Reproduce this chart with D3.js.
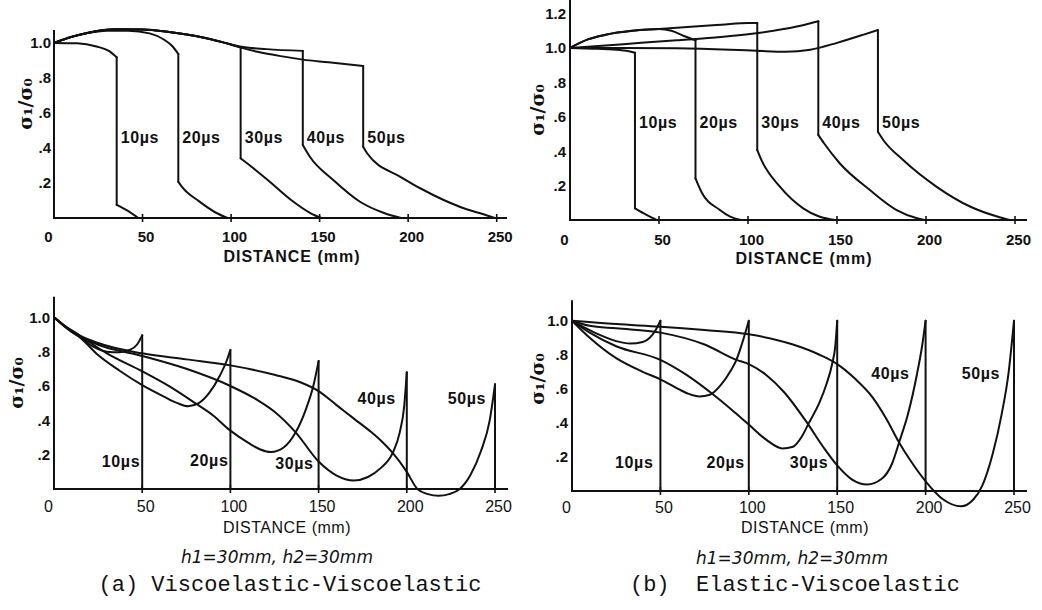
<!DOCTYPE html>
<html><head><meta charset="utf-8">
<script src="https://cdn.jsdelivr.net/npm/d3@7"></script>
<style>
html,body{margin:0;padding:0;background:#fff;}
svg{display:block;}
</style></head>
<body>
<svg id="chart" width="1042" height="610"></svg>
<script>
// ---------- DATA ----------
const timeLabels = ["10µs","20µs","30µs","40µs","50µs"];
const xTickValues = [0,50,100,150,200,250];
const yTicksLower = [0.2,0.4,0.6,0.8,1.0];
const yTicksUpper = [0.2,0.4,0.6,0.8,1.0,1.2];

// (a) Viscoelastic-Viscoelastic, top: wave front part (head) and tail after the jump
const aTopHead = [
  [[0,1],[13,0.998],[24,0.98],[30.7,0.956],[35.4,0.918]],
  [[0,1],[8,1.03],[18,1.055],[30,1.07],[42,1.07],[54,1.055],[62,1.02],[67,0.98],[70.2,0.937]],
  [[0,1],[10,1.035],[20,1.06],[35,1.078],[50,1.077],[65,1.063],[80,1.04],[95,1.005],[105.4,0.975]],
  [[0,1],[10,1.035],[20,1.06],[35,1.078],[50,1.077],[65,1.063],[80,1.04],[95,1.005],[105,0.98],[120,0.965],[140.5,0.955]],
  [[0,1],[10,1.035],[20,1.06],[35,1.078],[50,1.077],[65,1.063],[80,1.04],[95,1.005],[105,0.975],[115,0.95],[128,0.925],[140.5,0.905],[155,0.89],[174.6,0.869]]
];
const aTopTail = [
  [[35.4,0.075],[41,0.045],[47.6,0]],
  [[70.2,0.207],[72.5,0.175],[82,0.095],[91.5,0.03],[98,0]],
  [[105.4,0.341],[109.4,0.31],[120.7,0.217],[133.9,0.103],[145,0.027],[151,0]],
  [[140.5,0.417],[144.5,0.35],[157.7,0.217],[172.8,0.093],[186,0.03],[196,0]],
  [[174.6,0.407],[176.8,0.37],[195.6,0.235],[214.4,0.13],[233,0.05],[243,0.02],[249,0]]
];

// (b) Elastic-Viscoelastic, top
const bTopHead = [
  [[0,1],[15,0.995],[28,0.988],[33.7,0.98],[36.5,0.972]],
  [[0,1],[10,1.05],[20,1.077],[35,1.1],[50,1.11],[57,1.1],[64,1.07],[70.5,1.045]],
  [[0,1],[10,1.05],[20,1.077],[35,1.1],[50,1.11],[70,1.125],[85,1.135],[100,1.145],[105.2,1.145]],
  [[0,1],[20,1.015],[40,1.03],[60,1.045],[80,1.06],[100,1.08],[120,1.11],[132,1.135],[139.5,1.155]],
  [[0,1],[30,1.0],[60,0.998],[90,0.99],[105,0.984],[121,0.978],[135,0.99],[150,1.03],[165,1.078],[173,1.105]]
];
const bTopTail = [
  [[36.5,0.068],[43,0.03],[48.7,0]],
  [[70.5,0.242],[74,0.16],[84,0.06],[90,0.02],[96,0]],
  [[105.2,0.407],[107.5,0.35],[117.8,0.195],[131,0.068],[140,0.02],[149,0]],
  [[139.5,0.494],[142.7,0.446],[151.5,0.33],[168.5,0.174],[183.5,0.058],[195,0.01],[199,0]],
  [[173,0.513],[176,0.465],[187,0.35],[206,0.193],[225,0.077],[240,0.02],[247,0]]
];

// (a) bottom: curves end in a vertical jump down to zero
const aBottom = [
  [[0,1],[6,0.95],[13,0.905],[22,0.83],[30,0.8],[37,0.797],[43,0.81],[47,0.84],[50,0.895]],
  [[0,1],[8,0.93],[15,0.88],[25,0.78],[37,0.69],[50,0.605],[62,0.54],[70,0.5],[76,0.482],[82,0.5],[88,0.56],[94,0.66],[98,0.75],[100,0.81]],
  [[0,1],[8,0.935],[15,0.89],[30,0.79],[50,0.685],[65,0.6],[80,0.5],[90,0.43],[100,0.34],[110,0.27],[117,0.23],[123,0.215],[130,0.24],[137,0.33],[143,0.47],[147,0.6],[150,0.745]],
  [[0,1],[10,0.915],[25,0.84],[50,0.775],[75,0.7],[100,0.6],[115,0.52],[125,0.45],[137,0.33],[150,0.16],[160,0.08],[170,0.05],[178,0.07],[185,0.12],[192,0.21],[196,0.33],[198.5,0.48],[200,0.68]],
  [[0,1],[10,0.92],[25,0.85],[50,0.79],[75,0.755],[100,0.72],[125,0.665],[140,0.62],[150,0.57],[160,0.49],[170,0.41],[180,0.33],[186,0.275],[192,0.21],[200,0.1],[206,0.0],[212,-0.03],[218,-0.04],[224,-0.03],[230,0.0],[236,0.08],[242,0.22],[247,0.4],[250,0.61]]
];

// (b) bottom
const bBottom = [
  [[0,1],[8,0.955],[16,0.915],[25,0.88],[33,0.866],[40,0.875],[44,0.9],[47,0.94],[50,1.0]],
  [[0,1],[10,0.9],[25,0.78],[40,0.7],[50,0.656],[60,0.6],[66,0.57],[72,0.555],[78,0.565],[84,0.62],[90,0.71],[93,0.77],[96,0.86],[100,1.0]],
  [[0,1],[10,0.93],[25,0.85],[50,0.77],[65,0.68],[80,0.565],[90,0.48],[100,0.39],[110,0.3],[119,0.25],[125,0.26],[130,0.32],[134,0.4],[140,0.52],[144,0.63],[147,0.74],[149,0.86],[150,1.0]],
  [[0,1],[10,0.97],[25,0.955],[50,0.93],[75,0.86],[93,0.77],[100,0.745],[110,0.68],[120,0.58],[133,0.4],[142,0.26],[150,0.15],[158,0.07],[167,0.038],[175,0.07],[181,0.16],[185,0.285],[190,0.45],[195,0.68],[198,0.85],[200,1.0]],
  [[0,1],[25,0.98],[50,0.965],[75,0.945],[100,0.92],[125,0.86],[140,0.8],[150,0.745],[160,0.66],[170,0.55],[178,0.42],[185,0.285],[192,0.17],[200,0.057],[210,-0.05],[220,-0.09],[227,-0.05],[232,0.03],[238,0.22],[243,0.45],[247,0.7],[250,1.0]]
];

// ---------- LAYOUT ----------
const svg = d3.select("#chart");
const INK = "#111";

const panels = [
  {kind:"top", xr:[54,496.7], y0:218, y1:43, axisTop:1.075, axisEnd:507, yTicks:yTicksLower,
   heads:aTopHead, tails:aTopTail, labelY:137, tickPad:13.5,
   xTitle:[292,256], yTitle:[25,104], ytRight:51},
  {kind:"top", xr:[570,1015], y0:220, y1:48, axisTop:1.29, axisEnd:1027, yTicks:yTicksUpper,
   heads:bTopHead, tails:bTopTail, labelY:122, tickPad:14.5,
   xTitle:[804,258], yTitle:[537,110], ytRight:566},
  {kind:"bottom", xr:[54,495], y0:489, y1:317.3, axisTop:1.12, axisEnd:508, yTicks:yTicksLower,
   curves:aBottom, labelYs:[461,460,463,398,398], labelDx:[-2,-2,-5,-11,-9],
   tickPad:12, xTitle:[287,527], yTitle:[16,383], ytRight:50},
  {kind:"bottom", xr:[572,1014], y0:491, y1:320.7, axisTop:1.12, axisEnd:1027, yTicks:yTicksLower,
   curves:bBottom, labelYs:[462,462,462,373,373], labelDx:[-7,-4,-9,-16,-14],
   tickPad:11, xTitle:[805,527], yTitle:[537,379], ytRight:568}
];

const fmt = d => d >= 1 ? d.toFixed(1) : d.toFixed(1).replace(/^0/, "");
const LABEL_FONT = "bold 16px 'Liberation Sans', Arial, sans-serif";

panels.forEach(p => {
  const x = d3.scaleLinear().domain([0,250]).range(p.xr);
  const y = d3.scaleLinear().domain([0,1]).range([p.y0,p.y1]);
  const g = svg.append("g");
  const line = d3.line().x(d => x(d[0])).y(d => y(d[1])).curve(d3.curveMonotoneX);
  const straight = d3.line().x(d => x(d[0])).y(d => y(d[1]));

  // axes lines
  g.append("line").attr("x1", x(0)).attr("x2", x(0)).attr("y1", y(0)+1).attr("y2", y(p.axisTop))
    .attr("stroke", INK).attr("stroke-width", 2);
  g.append("line").attr("x1", x(0)-1).attr("x2", p.axisEnd).attr("y1", y(0)).attr("y2", y(0))
    .attr("stroke", INK).attr("stroke-width", 2);
  // tick crosses
  g.selectAll(".tk").data(xTickValues.filter(v => v > 0)).join("line")
    .attr("x1", d => x(d)).attr("x2", d => x(d)).attr("y1", y(0)-4).attr("y2", y(0)+4)
    .attr("stroke", INK).attr("stroke-width", 1.6);

  // y axis labels
  const yAx = g.append("g").attr("transform", `translate(${x(0)},0)`)
    .call(d3.axisLeft(y).tickValues(p.yTicks).tickSize(0).tickPadding(x(0)-p.ytRight).tickFormat(fmt));
  yAx.select(".domain").remove();
  yAx.selectAll("text").attr("fill", INK).style("font", "bold 15px 'Liberation Sans', Arial, sans-serif");

  // x axis labels
  const xAx = g.append("g").attr("transform", `translate(0,${y(0)})`)
    .call(d3.axisBottom(x).tickValues(xTickValues).tickSize(0).tickPadding(p.tickPad).tickFormat(d3.format("d")));
  xAx.select(".domain").remove();
  xAx.selectAll("text").attr("fill", INK)
    .attr("dx", d => d === 0 ? -6 : 3)
    .style("font", p.kind === "top" ? "bold 15px 'Liberation Sans', Arial, sans-serif" : "16px 'Liberation Sans', Arial, sans-serif");

  // curves
  const stroke = s => s.attr("fill", "none").attr("stroke", INK).attr("stroke-width", 2)
    .attr("stroke-linejoin", "round").attr("stroke-linecap", "round");
  if (p.kind === "top") {
    p.heads.forEach((h, i) => {
      const t = p.tails[i];
      g.append("path").attr("d", line(h)).call(stroke);
      g.append("path").attr("d", straight([h[h.length-1], t[0]])).call(stroke);
      g.append("path").attr("d", line(t)).call(stroke);
      const jx = x(h[h.length-1][0]);
      g.append("text").attr("x", jx + 4).attr("y", p.labelY).attr("dy", "0.36em")
        .attr("fill", INK).style("font", LABEL_FONT)
        .style("letter-spacing", "0.6px").text(timeLabels[i]);
    });
  } else {
    p.curves.forEach((c, i) => {
      const last = c[c.length-1];
      g.append("path").attr("d", line(c)).call(stroke);
      g.append("path").attr("d", straight([last, [last[0], 0]])).call(stroke);
      g.append("text").attr("x", x(last[0]) + p.labelDx[i]).attr("y", p.labelYs[i]).attr("dy", "0.36em")
        .attr("text-anchor", "end")
        .attr("fill", INK).style("font", LABEL_FONT)
        .style("letter-spacing", "0.6px").text(timeLabels[i]);
    });
  }

  // titles
  g.append("text").attr("x", p.xTitle[0]).attr("y", p.xTitle[1]).attr("dy", "0.36em")
    .attr("text-anchor", "middle").attr("fill", INK)
    .style("font", p.kind === "top" ? "bold 16px 'Liberation Sans', Arial, sans-serif" : "16px 'Liberation Sans', Arial, sans-serif")
    .style("letter-spacing", p.kind === "top" ? "1px" : "0.5px")
    .text("DISTANCE (mm)");
  g.append("text").attr("transform", `translate(${p.yTitle[0]},${p.yTitle[1]}) rotate(-90)`)
    .attr("dy", "0.36em").attr("text-anchor", "middle").attr("fill", INK)
    .style("font", "bold 19px 'DejaVu Serif', serif").text("σ₁/σ₀");
});

// captions
const captions = [
  {x:277, y:557, t:"h1=30mm, h2=30mm", f:"oblique 17px 'DejaVu Sans', sans-serif"},
  {x:792, y:558, t:"h1=30mm, h2=30mm", f:"oblique 17px 'DejaVu Sans', sans-serif"},
  {x:290, y:583, t:"(a) Viscoelastic-Viscoelastic", f:"22px 'Liberation Mono', monospace"},
  {x:795, y:583, t:"(b)  Elastic-Viscoelastic", f:"22px 'Liberation Mono', monospace"}
];
svg.selectAll(".cap").data(captions).join("text")
  .attr("x", d => d.x).attr("y", d => d.y).attr("dy", "0.36em").attr("text-anchor", "middle")
  .attr("fill", INK).style("font", d => d.f).style("white-space", "pre").attr("xml:space", "preserve")
  .text(d => d.t);
</script>
</body></html>
